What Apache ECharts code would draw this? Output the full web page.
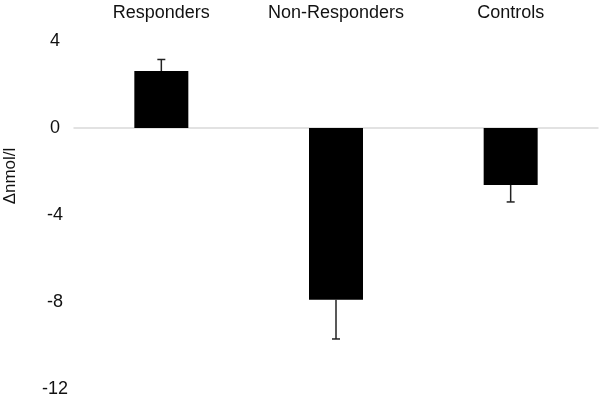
<!DOCTYPE html>
<html>
<head>
<meta charset="utf-8">
<script src="https://cdn.jsdelivr.net/npm/echarts@6/dist/echarts.min.js"></script>
<style>
	html, body { margin: 0; padding: 0; background: #fff; }
	#main { width: 600px; height: 402px; }
</style>
</head>
<body>
<div id="main"></div>
<script>
// data
var groups = ['Responders', 'Non-Responders', 'Controls'];
var means = [2.62, -7.9, -2.62];
var errEnds = [3.15, -9.7, -3.4]; // end of the error whisker (away from zero)
var yTicks = [-12, -8, -4, 0, 4];

var errData = [];
for (var i = 0; i < groups.length; i++) {
	errData.push([i, means[i], errEnds[i]]);
}

var myChart = echarts.init(document.getElementById('main'));

var option = {
	animation : false,
	textStyle : {
		fontFamily : 'Liberation Sans, Arial, sans-serif'
	},
	grid : {
		left : 74,
		right : 2,
		top : 41,
		bottom : 13
	},
	xAxis : [{
				type : 'category',
				data : groups,
				position : 'top',
				axisLine : { show : false, onZero : false },
				axisTick : { show : false },
				axisLabel : {
					interval : 0,
					margin : 19,
					fontSize : 18,
					color : '#111'
				}
			}, {
				// only used for the grey zero line
				type : 'category',
				data : groups,
				position : 'bottom',
				axisLine : {
					show : true,
					onZero : true,
					lineStyle : { color : '#d9d9d9', width : 1.5 }
				},
				axisTick : { show : false },
				axisLabel : { show : false }
			}],
	yAxis : {
		type : 'value',
		min : yTicks[0],
		max : yTicks[yTicks.length - 1],
		interval : 4,
		axisLine : { show : false },
		axisTick : { show : false },
		splitLine : { show : false },
		axisLabel : {
			align : 'center',
			margin : 19,
			fontSize : 18,
			color : '#111',
			padding : [6, 0, 0, 0]
		}
	},
	graphic : [{
				type : 'text',
				x : 10,
				y : 176,
				rotation : Math.PI / 2,
				style : {
					text : 'Δnmol/l',
					fontSize : 17,
					fontFamily : 'Liberation Sans, Arial, sans-serif',
					fill : '#111',
					align : 'center',
					verticalAlign : 'middle'
				}
			}],
	series : [{
				type : 'bar',
				data : means,
				barWidth : 54,
				itemStyle : { color : '#000' }
			}, {
				type : 'custom',
				data : errData,
				z : 3,
				renderItem : function(params, api) {
					var x = api.value(0);
					var from = api.coord([x, api.value(1)]);
					var to = api.coord([x, api.value(2)]);
					var st = { stroke : '#222', lineWidth : 1.5 };
					return {
						type : 'group',
						children : [{
									type : 'line',
									shape : { x1 : from[0], y1 : from[1], x2 : to[0], y2 : to[1] },
									style : st
								}, {
									type : 'line',
									shape : { x1 : to[0] - 4, y1 : to[1], x2 : to[0] + 4, y2 : to[1] },
									style : st
								}]
					};
				}
			}]
};

myChart.setOption(option);
</script>
</body>
</html>
